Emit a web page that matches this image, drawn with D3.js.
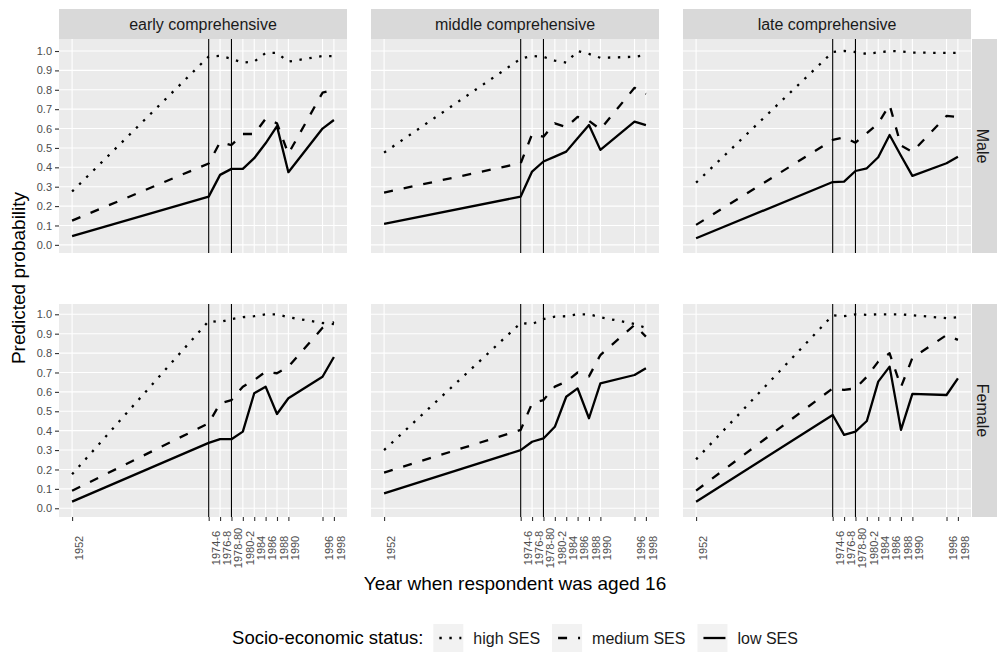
<!DOCTYPE html>
<html>
<head>
<meta charset="utf-8">
<script src="https://cdn.jsdelivr.net/npm/d3@7"></script>
<style>
  html, body { margin: 0; padding: 0; background: #fff; }
  svg { display: block; font-family: "Liberation Sans", Arial, sans-serif; }
</style>
</head>
<body>
<svg id="chart" width="997" height="655"></svg>
<script>
// Cohort years (x positions) and the labels shown under each tick
const years = [1952, 1976, 1978, 1980, 1982, 1984, 1986, 1988, 1990, 1996, 1998];
const yearLabels = ["1952", "1974-6", "1976-8", "1978-80", "1980-2", "1984", "1986", "1988", "1990", "1996", "1998"];
const reformYears = [1976, 1980];
const yTicks = [0, 0.1, 0.2, 0.3, 0.4, 0.5, 0.6, 0.7, 0.8, 0.9, 1.0];

const comprehensives = ["early comprehensive", "middle comprehensive", "late comprehensive"];
const sexes = ["Male", "Female"];
const sesLevels = ["high SES", "medium SES", "low SES"];

// Predicted probabilities, one array per panel and SES group (ordered as `years`)
const earlyMaleHigh   = [0.275, 0.972, 0.975, 0.960, 0.940, 0.945, 0.990, 0.990, 0.945, 0.974, 0.974];
const earlyMaleMedium = [0.125, 0.420, 0.530, 0.515, 0.572, 0.572, 0.650, 0.627, 0.470, 0.785, 0.800];
const earlyMaleLow    = [0.045, 0.249, 0.361, 0.392, 0.392, 0.447, 0.524, 0.612, 0.375, 0.600, 0.644];

const earlyFemaleHigh   = [0.175, 0.965, 0.960, 0.975, 0.985, 0.990, 1.000, 1.000, 0.985, 0.955, 0.950];
const earlyFemaleMedium = [0.090, 0.438, 0.541, 0.558, 0.627, 0.661, 0.704, 0.696, 0.730, 0.930, 0.960];
const earlyFemaleLow    = [0.034, 0.337, 0.356, 0.356, 0.395, 0.593, 0.627, 0.486, 0.567, 0.678, 0.780];

const middleMaleHigh   = [0.476, 0.960, 0.975, 0.970, 0.950, 0.940, 1.000, 0.985, 0.965, 0.970, 0.980];
const middleMaleMedium = [0.270, 0.421, 0.571, 0.558, 0.627, 0.607, 0.660, 0.640, 0.596, 0.810, 0.778];
const middleMaleLow    = [0.108, 0.249, 0.378, 0.430, 0.455, 0.481, 0.550, 0.618, 0.490, 0.636, 0.618];

const middleFemaleHigh   = [0.300, 0.955, 0.950, 0.975, 0.988, 0.990, 1.000, 1.000, 0.985, 0.950, 0.930];
const middleFemaleMedium = [0.184, 0.404, 0.541, 0.558, 0.627, 0.653, 0.700, 0.680, 0.790, 0.945, 0.885];
const middleFemaleLow    = [0.077, 0.300, 0.343, 0.360, 0.420, 0.575, 0.618, 0.464, 0.644, 0.687, 0.722];

const lateMaleHigh   = [0.321, 0.995, 1.000, 0.995, 0.985, 0.993, 1.000, 0.998, 0.992, 0.990, 0.990];
const lateMaleMedium = [0.103, 0.541, 0.555, 0.527, 0.576, 0.627, 0.722, 0.512, 0.480, 0.665, 0.660];
const lateMaleLow    = [0.034, 0.324, 0.326, 0.381, 0.395, 0.452, 0.567, 0.460, 0.356, 0.421, 0.455];

const lateFemaleHigh   = [0.252, 0.995, 0.990, 1.000, 0.997, 1.000, 1.000, 1.000, 0.995, 0.980, 0.985];
const lateFemaleMedium = [0.091, 0.618, 0.610, 0.618, 0.678, 0.756, 0.799, 0.625, 0.775, 0.893, 0.868];
const lateFemaleLow    = [0.034, 0.481, 0.378, 0.395, 0.450, 0.653, 0.730, 0.404, 0.590, 0.584, 0.670];

// Panel lookup: [comprehensive][sex] -> [high, medium, low]
const panelValues = {
  "early comprehensive":  { Male: [earlyMaleHigh, earlyMaleMedium, earlyMaleLow],
                            Female: [earlyFemaleHigh, earlyFemaleMedium, earlyFemaleLow] },
  "middle comprehensive": { Male: [middleMaleHigh, middleMaleMedium, middleMaleLow],
                            Female: [middleFemaleHigh, middleFemaleMedium, middleFemaleLow] },
  "late comprehensive":   { Male: [lateMaleHigh, lateMaleMedium, lateMaleLow],
                            Female: [lateFemaleHigh, lateFemaleMedium, lateFemaleLow] }
};

// ---- layout ----
const svg = d3.select("#chart");
const colX = [59, 371, 683];
const panelW = 288;
const rowY = [39, 304];
const panelH = [214, 213];
const yDomains = [[-0.042, 1.062], [-0.045, 1.053]];
const lineWidth = 2.3;
const dashFor = {
  "high SES": "2.4,7.6",
  "medium SES": "9,11",
  "low SES": null
};
const textDark = "#1A1A1A";
const tickText = "#4D4D4D";

svg.append("rect").attr("width", 997).attr("height", 655).attr("fill", "#fff");

const x = d3.scaleLinear().domain([1949.7, 2000.3]).range([0, panelW]);

sexes.forEach((sex, r) => {
  const y = d3.scaleLinear().domain(yDomains[r]).range([panelH[r], 0]);

  comprehensives.forEach((comp, c) => {
    const g = svg.append("g").attr("transform", `translate(${colX[c]},${rowY[r]})`);

    // panel background and grid
    g.append("rect").attr("width", panelW).attr("height", panelH[r]).attr("fill", "#EBEBEB");
    g.selectAll(".hgrid").data(yTicks).join("line")
      .attr("x1", 0).attr("x2", panelW)
      .attr("y1", d => y(d)).attr("y2", d => y(d))
      .attr("stroke", "#fff").attr("stroke-width", 1.1);
    g.selectAll(".vgrid").data(years).join("line")
      .attr("y1", 0).attr("y2", panelH[r])
      .attr("x1", d => x(d)).attr("x2", d => x(d))
      .attr("stroke", "#fff").attr("stroke-width", 1.1);

    // reform markers
    g.selectAll(".ref").data(reformYears).join("line")
      .attr("y1", 0).attr("y2", panelH[r])
      .attr("x1", d => x(d)).attr("x2", d => x(d))
      .attr("stroke", "#000").attr("stroke-width", 1.1);

    // SES lines
    const line = d3.line().x((d, i) => x(years[i])).y(d => y(d));
    const groups = panelValues[comp][sex];
    sesLevels.forEach((ses, k) => {
      g.append("path")
        .attr("d", line(groups[k]))
        .attr("fill", "none")
        .attr("stroke", "#000")
        .attr("stroke-width", lineWidth)
        .attr("stroke-linejoin", "round")
        .attr("stroke-linecap", "butt")
        .attr("stroke-dasharray", dashFor[ses]);
    });

    // left axis only on first column
    if (c === 0) {
      const ax = g.append("g").call(
        d3.axisLeft(y).tickValues(yTicks).tickFormat(d3.format(".1f")).tickSize(4).tickPadding(3)
      );
      ax.select(".domain").remove();
      ax.selectAll(".tick line").attr("stroke", "#333").attr("stroke-width", 1.1);
      ax.selectAll(".tick text").attr("fill", tickText).style("font-size", "11px")
        .style("font-family", "'Liberation Sans', Arial, sans-serif");
    }

    // bottom axis only on last row
    if (r === sexes.length - 1) {
      const ax = g.append("g").attr("transform", `translate(0,${panelH[r]})`).call(
        d3.axisBottom(x).tickValues(years).tickFormat((d, i) => yearLabels[i]).tickSize(4)
      );
      ax.select(".domain").remove();
      ax.selectAll(".tick line").attr("stroke", "#333").attr("stroke-width", 1.1);
      ax.selectAll(".tick text")
        .attr("fill", tickText)
        .style("font-size", "11px")
        .style("font-family", "'Liberation Sans', Arial, sans-serif")
        .attr("x", 0).attr("y", 0).attr("dy", "0.35em")
        .attr("text-anchor", "middle")
        .attr("transform", "translate(6.5,31) rotate(-90)");
    }

    // column strips on top row
    if (r === 0) {
      svg.append("rect").attr("x", colX[c]).attr("y", 9).attr("width", panelW).attr("height", 30)
        .attr("fill", "#D9D9D9");
      svg.append("text").attr("x", colX[c] + panelW / 2).attr("y", 24).attr("dy", "0.35em")
        .attr("text-anchor", "middle").attr("fill", textDark).style("font-size", "16px")
        .text(comp);
    }
  });

  // row strip on the right
  svg.append("rect").attr("x", 972).attr("y", rowY[r]).attr("width", 27).attr("height", panelH[r])
    .attr("fill", "#D9D9D9");
  svg.append("text")
    .attr("transform", `translate(983,${rowY[r] + panelH[r] / 2}) rotate(90)`)
    .attr("dy", "0.35em").attr("text-anchor", "middle").attr("fill", textDark)
    .style("font-size", "16px").text(sex);
});

// axis titles
svg.append("text")
  .attr("transform", "translate(18,278) rotate(-90)")
  .attr("dy", "0.35em").attr("text-anchor", "middle").attr("fill", "#000")
  .style("font-size", "19px").text("Predicted probability");
svg.append("text")
  .attr("x", 515).attr("y", 583).attr("dy", "0.35em").attr("text-anchor", "middle").attr("fill", "#000")
  .style("font-size", "19px").text("Year when respondent was aged 16");

// legend, laid out left to right and centred under the panels
const legend = svg.append("g");
const legendY = 638;
const keyW = 30, keyH = 28;
let cursor = 0;
const title = legend.append("text").attr("x", cursor).attr("y", legendY).attr("dy", "0.35em")
  .attr("fill", "#000").style("font-size", "18.5px").text("Socio-economic status:");
cursor += title.node().getComputedTextLength() + 10;
sesLevels.forEach((ses, k) => {
  legend.append("rect").attr("x", cursor).attr("y", legendY - keyH / 2)
    .attr("width", keyW).attr("height", keyH).attr("fill", "#F2F2F2");
  legend.append("line")
    .attr("x1", cursor + keyW * 0.1 + 3).attr("x2", cursor + keyW * 0.9 + 1)
    .attr("y1", legendY).attr("y2", legendY)
    .attr("stroke", "#000").attr("stroke-width", lineWidth)
    .attr("stroke-linecap", "butt").attr("stroke-dasharray", dashFor[ses]);
  cursor += keyW + 10;
  const lab = legend.append("text").attr("x", cursor).attr("y", legendY).attr("dy", "0.35em")
    .attr("fill", textDark).style("font-size", "16px").text(ses);
  cursor += lab.node().getComputedTextLength() + (k < sesLevels.length - 1 ? 12 : 0);
});
legend.attr("transform", `translate(${515 - cursor / 2},0)`);
</script>
</body>
</html>
